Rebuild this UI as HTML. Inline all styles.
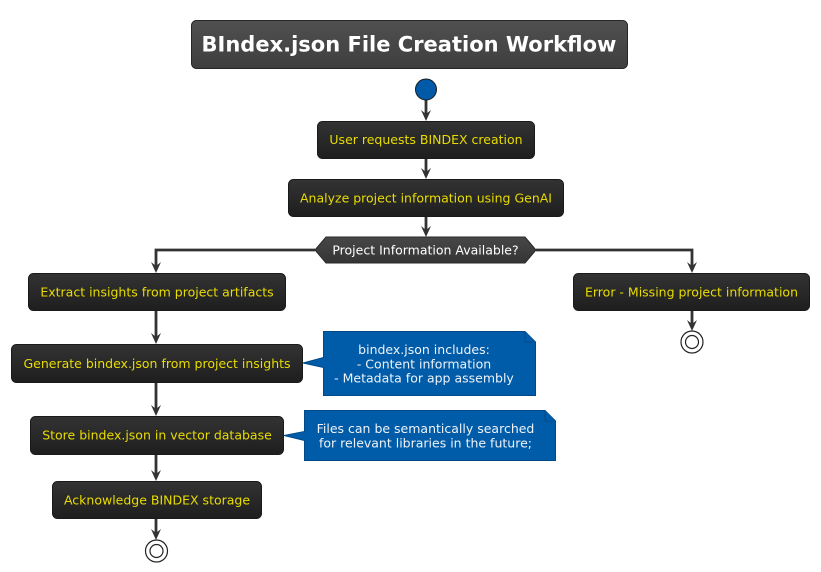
<!DOCTYPE html>
<html><head><meta charset="utf-8">
<style>
html,body{margin:0;padding:0;background:#fff;}
svg{display:block;}
text{font-family:"DejaVu Sans","Liberation Sans",sans-serif;}
</style></head>
<body>
<svg width="821" height="572" viewBox="0 0 821 572" xmlns="http://www.w3.org/2000/svg">
<defs>
<linearGradient id="gBox" x1="0" y1="0" x2="0" y2="1">
<stop offset="0" stop-color="#333333"/><stop offset="1" stop-color="#1e1e1e"/>
</linearGradient>
<linearGradient id="gTitle" x1="0" y1="0" x2="0" y2="1">
<stop offset="0" stop-color="#505050"/><stop offset="1" stop-color="#3e3e3e"/>
</linearGradient>
<linearGradient id="gHex" x1="0" y1="0" x2="0" y2="1">
<stop offset="0" stop-color="#474747"/><stop offset="1" stop-color="#353535"/>
</linearGradient>
</defs>

<!-- Title -->
<rect x="191.5" y="20.5" width="436" height="48" rx="5" fill="url(#gTitle)" stroke="#262626" stroke-width="1"/>
<text x="409" y="51.5" font-size="21" font-weight="bold" fill="#ffffff" text-anchor="middle">BIndex.json File Creation Workflow</text>

<!-- connectors -->
<g stroke="#333333" stroke-width="2.8" fill="none">
<line x1="426" y1="100" x2="426" y2="118"/>
<line x1="426" y1="158" x2="426" y2="176"/>
<line x1="426" y1="217" x2="426" y2="234"/>
<polyline points="315,250 156,250 156,270"/>
<polyline points="536,250 692,250 692,270"/>
<line x1="156" y1="311" x2="156" y2="341"/>
<line x1="156" y1="383" x2="156" y2="413"/>
<line x1="156" y1="454" x2="156" y2="478"/>
<line x1="156" y1="519" x2="156" y2="537"/>
<line x1="692" y1="311" x2="692" y2="328"/>
</g>
<g fill="#333333">
<polygon points="421,110 426,121 431,110 426,114"/>
<polygon points="421,168 426,179 431,168 426,172"/>
<polygon points="421,226 426,237 431,226 426,230"/>
<polygon points="151,262 156,273 161,262 156,266"/>
<polygon points="687,262 692,273 697,262 692,266"/>
<polygon points="151,333 156,344 161,333 156,337"/>
<polygon points="151,405 156,416 161,405 156,409"/>
<polygon points="151,470 156,481 161,470 156,474"/>
<polygon points="151,529 156,540 161,529 156,533"/>
<polygon points="687,320 692,331 697,320 692,324"/>
</g>

<!-- start -->
<circle cx="426" cy="89.5" r="10.5" fill="#005aa8" stroke="#1a1a1a" stroke-width="1"/>

<!-- action boxes -->
<g stroke="#1a1a1a" stroke-width="1" fill="url(#gBox)">
<rect x="317.5" y="121.5" width="217" height="37" rx="5"/>
<rect x="288.5" y="179.5" width="275" height="37" rx="5"/>
<rect x="28.5" y="273.5" width="257" height="37" rx="5"/>
<rect x="573.5" y="273.5" width="236" height="37" rx="5"/>
<rect x="11.5" y="344.5" width="291" height="38" rx="5"/>
<rect x="30.5" y="416.5" width="253" height="38" rx="5"/>
<rect x="52.5" y="481.5" width="209" height="37" rx="5"/>
</g>
<g font-size="12.5" fill="#e8dc00" text-anchor="middle">
<text x="426" y="144">User requests BINDEX creation</text>
<text x="426" y="202.5">Analyze project information using GenAI</text>
<text x="157" y="296.5">Extract insights from project artifacts</text>
<text x="691.5" y="296.5">Error - Missing project information</text>
<text x="157" y="368">Generate bindex.json from project insights</text>
<text x="157" y="439.5">Store bindex.json in vector database</text>
<text x="157" y="504.5">Acknowledge BINDEX storage</text>
</g>

<!-- decision -->
<polygon points="315,250 326,237 525,237 536,250 525,263 326,263" fill="url(#gHex)" stroke="#2a2a2a" stroke-width="1"/>
<text x="425.5" y="254.5" font-size="12.5" fill="#ffffff" text-anchor="middle">Project Information Available?</text>

<!-- end circles -->
<circle cx="156.5" cy="551" r="11" fill="#ffffff" stroke="#222222" stroke-width="1.2"/>
<circle cx="156.5" cy="551" r="6.5" fill="#ffffff" stroke="#222222" stroke-width="1.2"/>
<circle cx="692" cy="342" r="11" fill="#ffffff" stroke="#222222" stroke-width="1.2"/>
<circle cx="692" cy="342" r="6.5" fill="#ffffff" stroke="#222222" stroke-width="1.2"/>

<!-- notes -->
<g fill="#005ca8" stroke="#004a8a" stroke-width="1">
<path d="M323.5,331.5 L525,331.5 L535.5,342 L535.5,395.5 L323.5,395.5 L323.5,367.5 L303,363 L323.5,357.5 Z"/>
<path d="M525,331.5 L525,342 L535.5,342"/>
<path d="M304.5,410.5 L545,410.5 L555.5,421 L555.5,460.5 L304.5,460.5 L304.5,440.5 L284,435.5 L304.5,431.5 Z"/>
<path d="M545,410.5 L545,421 L555.5,421"/>
</g>
<g font-size="12.5" fill="#eef2f8" text-anchor="middle">
<text x="424" y="354">bindex.json includes:</text>
<text x="424" y="368.3">- Content information</text>
<text x="424" y="382.6">- Metadata for app assembly</text>
<text x="425.5" y="433">Files can be semantically searched</text>
<text x="425.5" y="447.3">for relevant libraries in the future;</text>
</g>
</svg>
</body></html>
